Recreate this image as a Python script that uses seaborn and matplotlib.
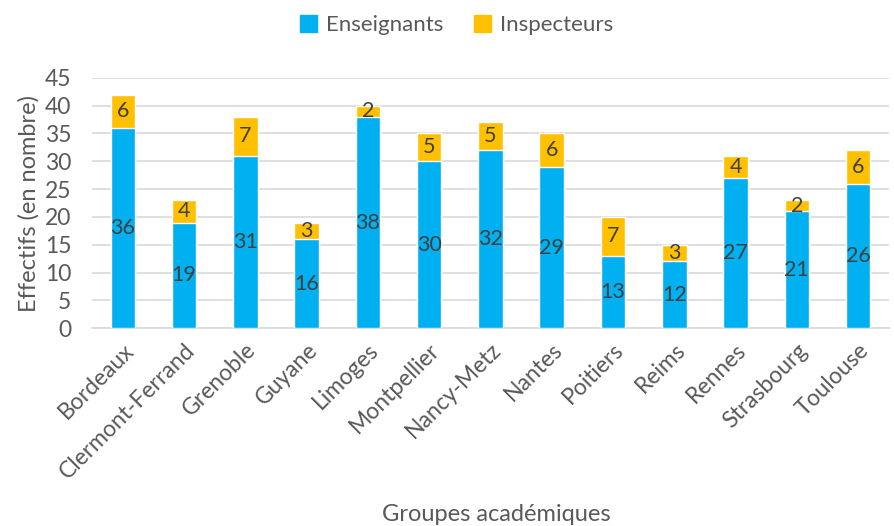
import numpy as np
import pandas as pd
import matplotlib
matplotlib.use("Agg")
import matplotlib.pyplot as plt
import seaborn as sns
from matplotlib.patches import Patch

groupes = ['Bordeaux', 'Clermont-Ferrand', 'Grenoble', 'Guyane', 'Limoges', 'Montpellier',
           'Nancy-Metz', 'Nantes', 'Poitiers', 'Reims', 'Rennes', 'Strasbourg', 'Toulouse']
enseignants = [36, 19, 31, 16, 38, 30, 32, 29, 13, 12, 27, 21, 26]
inspecteurs = [6, 4, 7, 3, 2, 5, 5, 6, 7, 3, 4, 2, 6]

bleu = '#00B0F0'
jaune = '#FFC000'
gris = '#595959'

sns.set_style("white")
plt.rcParams['font.family'] = ['Lato', 'DejaVu Sans']

df = pd.DataFrame({'groupe': groupes, 'ens': enseignants, 'insp': inspecteurs})
df['total'] = df['ens'] + df['insp']

fig = plt.figure(figsize=(8.95, 5.26), dpi=100)
ax = fig.add_axes([0.103, 0.376, 0.89, 0.476])

# total bars in yellow, then teachers drawn over them in blue
sns.barplot(data=df, x='groupe', y='total', color=jaune, width=0.4, saturation=1, ax=ax, zorder=2)
sns.barplot(data=df, x='groupe', y='ens', color=bleu, width=0.4, saturation=1, ax=ax, zorder=3)

cont_total = ax.containers[0]
cont_ens = ax.containers[1]
ax.bar_label(cont_ens, labels=[str(v) for v in enseignants], label_type='center',
             fontsize=15.5, color='#404040')
for rect, v in zip(cont_total, inspecteurs):
    top = rect.get_height()
    ax.text(rect.get_x() + rect.get_width() / 2, top - v / 2, str(v),
            ha='center', va='center', fontsize=15.5, color='#404040', zorder=4)

ax.set_ylim(0, 45)
ax.set_yticks(range(0, 46, 5))
ax.set_xlim(-0.5, 12.5)
ax.yaxis.grid(True, color='#D9D9D9', linewidth=1.2)
ax.set_axisbelow(True)
for s in ['top', 'right', 'left']:
    ax.spines[s].set_visible(False)
ax.spines['bottom'].set_color('#D9D9D9')
ax.spines['bottom'].set_linewidth(1.2)
ax.tick_params(axis='x', length=0, labelsize=16.5, colors=gris, pad=8)
ax.tick_params(axis='y', length=0, labelsize=16.5, colors=gris, pad=15)
plt.setp(ax.get_xticklabels(), rotation=45, ha='right', rotation_mode='anchor')

ax.set_xlabel('')
fig.text(0.555, 0.022, 'Groupes académiques', ha='center', va='center', fontsize=17, color=gris)
ax.set_ylabel('Effectifs (en nombre)', fontsize=17, color=gris, labelpad=4)

handles = [Patch(color=bleu, label='Enseignants'), Patch(color=jaune, label='Inspecteurs')]
fig.legend(handles=handles, loc='center', bbox_to_anchor=(0.51, 0.952), ncol=2,
           frameon=False, fontsize=16, labelcolor=gris, handlelength=0.75, handleheight=0.75,
           handletextpad=0.4, columnspacing=1.4)

fig.savefig('out.png', dpi=100)
